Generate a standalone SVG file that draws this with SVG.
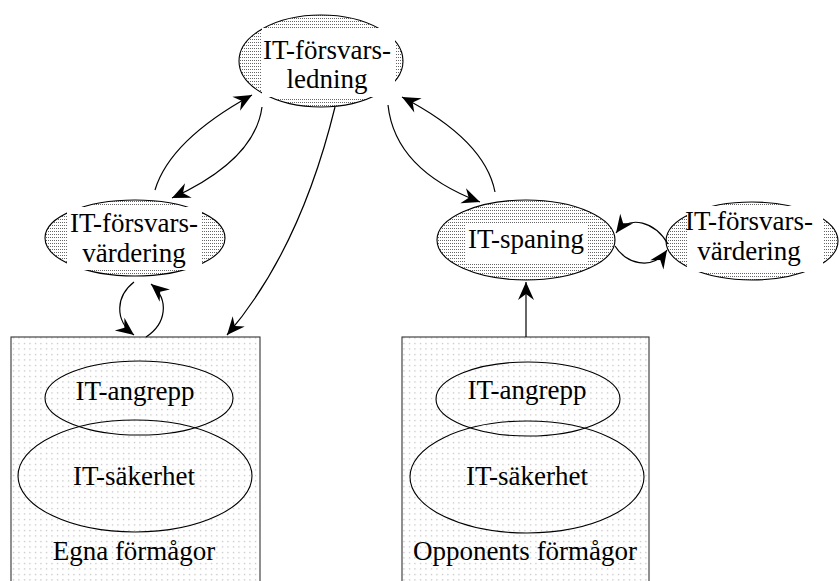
<svg xmlns="http://www.w3.org/2000/svg" width="839" height="581" viewBox="0 0 839 581">
<style>
text{font-family:"Liberation Serif","Times New Roman",serif;font-size:27px;fill:#000;text-anchor:middle}
.node{fill:url(#hatch);stroke:#000;stroke-width:1.1}
.inner{fill:none;stroke:#000;stroke-width:1.1}
.box{fill:url(#dots);stroke:#333;stroke-width:1.1}
.bg{fill:#fff;stroke:none}
.conn path{fill:none;stroke:#000;stroke-width:1.2;marker-end:url(#arr)}
</style>
<defs>
<pattern id="hatch" width="2" height="3" patternUnits="userSpaceOnUse"><rect width="2" height="3" fill="#fff"/><rect width="1" height="1" fill="#666"/></pattern>
<pattern id="dots" width="5.5" height="5.5" patternUnits="userSpaceOnUse"><rect width="5.5" height="5.5" fill="#fff"/><rect x="2" y="2" width="1" height="1" fill="#999"/></pattern>
<marker id="arr" viewBox="-19 -9 20 18" markerWidth="20" markerHeight="18" refX="0" refY="0" orient="auto" markerUnits="userSpaceOnUse"><path d="M0,0 L-18,-8 L-12,0 L-18,8 Z" fill="#000"/></marker>
</defs>
<rect width="839" height="581" fill="#fff"/>

<g id="egna">
<rect class="box" x="11" y="337" width="249" height="260"/>
<ellipse class="inner" cx="139" cy="398" rx="94" ry="37"/>
<ellipse class="inner" cx="135" cy="476" rx="117" ry="56"/>
<text x="135" y="400">IT-angrepp</text>
<text x="134" y="485">IT-säkerhet</text>
<text x="134" y="560">Egna förmågor</text>
</g>

<g id="opponent">
<rect class="box" x="402" y="337" width="247" height="260"/>
<ellipse class="inner" cx="528" cy="399" rx="92" ry="37"/>
<ellipse class="inner" cx="527" cy="477" rx="117" ry="56"/>
<text x="527" y="399">IT-angrepp</text>
<text x="527" y="485">IT-säkerhet</text>
<text x="525" y="560">Opponents förmågor</text>
</g>

<g id="ledning">
<ellipse class="node" cx="321" cy="61" rx="82" ry="46"/>
<rect class="bg" x="262" y="28" width="133" height="69"/>
<text x="327" y="59">IT-försvars-</text>
<text x="327" y="88">ledning</text>
</g>

<g id="vardering-egen">
<ellipse class="node" cx="135" cy="238" rx="90" ry="38"/>
<rect class="bg" x="67" y="207" width="135" height="63"/>
<text x="134" y="232">IT-försvars-</text>
<text x="134" y="262">värdering</text>
</g>

<g id="spaning">
<ellipse class="node" cx="526" cy="240" rx="89" ry="40"/>
<rect class="bg" x="465" y="225" width="123" height="37"/>
<text x="526" y="248">IT-spaning</text>
</g>

<g id="vardering-opp">
<ellipse class="node" cx="752" cy="241" rx="86" ry="39"/>
<rect class="bg" x="687" y="206" width="136" height="66"/>
<text x="749" y="230">IT-försvars-</text>
<text x="749" y="260">värdering</text>
</g>

<g id="connectors" class="conn">
<path d="M155,190 Q170,140 252,95"/>
<path d="M262,107 Q255,160 172,198"/>
<path d="M388,105 Q395,170 480,202"/>
<path d="M495,192 Q485,140 402,97"/>
<path d="M335,107 Q300,250 227,335"/>
<path d="M134,282 C116,296 114,320 134,335"/>
<path d="M146,337 C166,324 170,300 151,284"/>
<path d="M668,244 C655,222 630,214 616,233"/>
<path d="M615,246 C625,263 652,272 667,250"/>
<path d="M526,337 L526,282"/>
</g>
</svg>
